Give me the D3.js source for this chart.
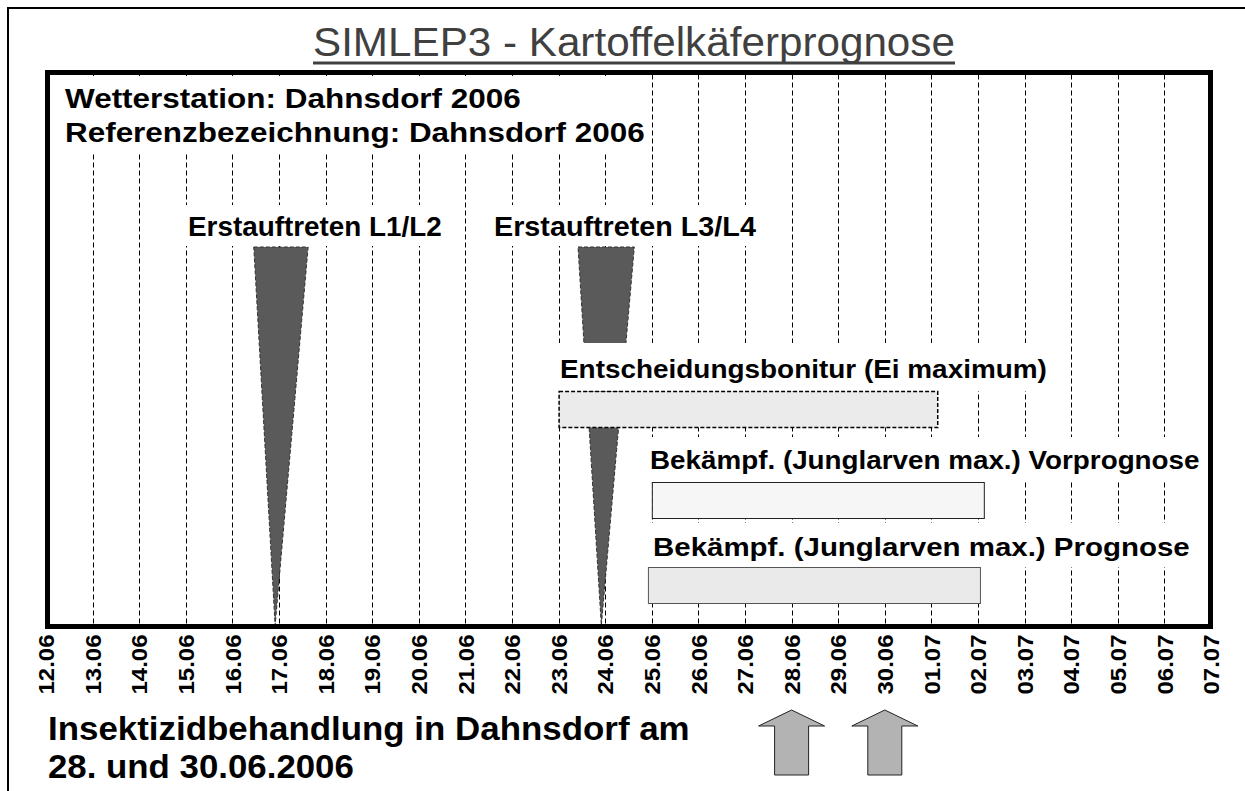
<!DOCTYPE html>
<html>
<head>
<meta charset="utf-8">
<script src="https://cdn.jsdelivr.net/npm/d3@7"></script>
<style>
  body { margin: 0; background: #fff; }
  text { font-family: "Liberation Sans", Arial, sans-serif; }
</style>
</head>
<body>
<script>
var w = 1245;
var h = 791;

// tick labels (days shown on the axis)
var dayLabels = ["12.06","13.06","14.06","15.06","16.06","17.06","18.06","19.06","20.06",
                 "21.06","22.06","23.06","24.06","25.06","26.06","27.06","28.06","29.06",
                 "30.06","01.07","02.07","03.07","04.07","05.07","06.07","07.07"];

// first appearance wedges
var wedgeLabels = ["Erstauftreten L1/L2", "Erstauftreten L3/L4"];
var wedgeStart  = ["2006-06-16T11:00", "2006-06-23T10:00"];
var wedgeEnd    = ["2006-06-17T15:00", "2006-06-24T15:00"];
var wedgePeak   = ["2006-06-16T22:00", "2006-06-23T22:00"];

// period bars
var barLabels = ["Entscheidungsbonitur (Ei maximum)",
                 "Bekämpf. (Junglarven max.) Vorprognose",
                 "Bekämpf. (Junglarven max.) Prognose"];
var barStart  = ["2006-06-23T00:00", "2006-06-25T00:00", "2006-06-24T22:00"];
var barEnd    = ["2006-07-01T03:00", "2006-07-02T03:00", "2006-07-02T01:00"];

// insecticide treatments
var treatDates = ["28.06", "30.06"];

var parseDay = d3.timeParse("%d.%m.%Y");
var parseIso = d3.timeParse("%Y-%m-%dT%H:%M");
var day = function(s) { return parseDay(s + ".2006"); };

var yTop = 72.5, yBottom = 626.5;

//Create scale
var xScale = d3.scaleTime()
    .domain([day(dayLabels[0]), day(dayLabels[dayLabels.length - 1])])
    .range([46, 1211]);

var svg = d3.select("body")
    .append("svg")
    .attr("width", w)
    .attr("height", h);

// stretch a text horizontally to a given width (the original font runs wide)
function fit(sel, len) {
    sel.each(function() {
        var el = d3.select(this);
        var nat = this.getComputedTextLength();
        var x = +el.attr("x") || 0, y = +el.attr("y") || 0;
        el.attr("x", 0).attr("y", 0)
          .attr("transform", "translate(" + x + "," + y + ") scale(" + (len / nat) + ",1)");
    });
}

// outer border (runs off the picture on the right and bottom)
svg.append("rect")
    .attr("x", 8).attr("y", 8)
    .attr("width", 1300).attr("height", 900)
    .attr("fill", "none").attr("stroke", "#000").attr("stroke-width", 2);

// title
svg.append("text")
    .attr("x", 313).attr("y", 56)
    .attr("font-size", 40)
    .attr("fill", "#404040")
    .text("SIMLEP3 - Kartoffelkäferprognose")
    .call(fit, 642);
svg.append("line")
    .attr("x1", 313).attr("x2", 955).attr("y1", 63).attr("y2", 63)
    .attr("stroke", "#404040").attr("stroke-width", 3);

// dashed day grid
var gridDays = dayLabels.slice(1, -1).map(day);
svg.append("g").selectAll("line")
    .data(gridDays)
    .enter()
    .append("line")
    .attr("x1", function(d) { return Math.round(xScale(d)) + 0.5; })
    .attr("x2", function(d) { return Math.round(xScale(d)) + 0.5; })
    .attr("y1", yTop + 2)
    .attr("y2", yBottom - 2)
    .attr("stroke", "#000")
    .attr("stroke-width", 1)
    .attr("stroke-dasharray", "5,3");

// wedges
var wedgeTop = 247;
svg.append("g").selectAll("path")
    .data(wedgeLabels.map(function(l, i) { return i; }))
    .enter()
    .append("path")
    .attr("d", function(i) {
        return "M" + xScale(parseIso(wedgeStart[i])) + "," + wedgeTop +
               "L" + xScale(parseIso(wedgeEnd[i])) + "," + wedgeTop +
               "L" + xScale(parseIso(wedgePeak[i])) + "," + (yBottom - 1) + "Z";
    })
    .attr("fill", "#5a5a5a")
    .attr("stroke", "#333")
    .attr("stroke-width", 1)
    .attr("stroke-dasharray", "4,2");

// white backgrounds behind the texts (they break the grid)
var blanks = [
    [55, 76, 595, 78],
    [183, 205, 262, 41],
    [488, 205, 274, 41],
    [555, 343, 497, 48],
    [645, 437, 560, 45],
    [645, 523, 550, 44]
];
svg.append("g").selectAll("rect")
    .data(blanks)
    .enter()
    .append("rect")
    .attr("x", function(d) { return d[0]; })
    .attr("y", function(d) { return d[1]; })
    .attr("width", function(d) { return d[2]; })
    .attr("height", function(d) { return d[3]; })
    .attr("fill", "#fff");

// bars
var barY = [391, 482, 567];
var barFill = ["#ebebeb", "#f6f6f6", "#eaeaea"];
var barStroke = ["#000", "#222", "#555"];
var barDash = ["4,2", null, null];
svg.append("g").selectAll("rect")
    .data(barLabels.map(function(l, i) { return i; }))
    .enter()
    .append("rect")
    .attr("x", function(i) { return xScale(parseIso(barStart[i])) + 0.5; })
    .attr("y", function(i) { return barY[i] + 0.5; })
    .attr("width", function(i) { return xScale(parseIso(barEnd[i])) - xScale(parseIso(barStart[i])); })
    .attr("height", 36)
    .attr("fill", function(i) { return barFill[i]; })
    .attr("stroke", function(i) { return barStroke[i]; })
    .attr("stroke-width", function(i) { return i === 0 ? 1.5 : 1; })
    .attr("stroke-dasharray", function(i) { return barDash[i]; });

// texts inside the frame
var labels = [
    {t: "Wetterstation: Dahnsdorf 2006", x: 65, y: 108, s: 28, len: 456},
    {t: "Referenzbezeichnung: Dahnsdorf 2006", x: 65, y: 142, s: 28, len: 580},
    {t: wedgeLabels[0], x: 188, y: 236, s: 27, len: 254},
    {t: wedgeLabels[1], x: 494, y: 236, s: 27, len: 262},
    {t: barLabels[0], x: 560, y: 378, s: 26, len: 487},
    {t: barLabels[1], x: 650, y: 469, s: 26, len: 550},
    {t: barLabels[2], x: 653, y: 556, s: 26, len: 537}
];
svg.append("g").selectAll("text")
    .data(labels)
    .enter()
    .append("text")
    .attr("x", function(d) { return d.x; })
    .attr("y", function(d) { return d.y; })
    .attr("font-size", function(d) { return d.s; })
    .attr("font-weight", "bold")
    .text(function(d) { return d.t; })
    .each(function(d) { d3.select(this).call(fit, d.len); });

// frame
svg.append("rect")
    .attr("x", 47.5).attr("y", yTop)
    .attr("width", 1163).attr("height", yBottom - yTop)
    .attr("fill", "none").attr("stroke", "#000").attr("stroke-width", 5);

//Define X axis
var xAxis = d3.axisBottom(xScale)
    .tickValues(dayLabels.map(day))
    .tickSize(0)
    .tickFormat(d3.timeFormat("%d.%m"));

var axisG = svg.append("g")
    .attr("transform", "translate(0," + yBottom + ")")
    .call(xAxis);
axisG.select(".domain").remove();
var tickLen = 60;
axisG.selectAll("text")
    .attr("dy", null)
    .attr("y", 0)
    .attr("dominant-baseline", "central")
    .attr("text-anchor", "end")
    .attr("font-size", 22)
    .attr("font-weight", "bold")
    .attr("font-family", "'Liberation Sans', Arial, sans-serif")
    .attr("fill", "#000")
    .each(function() {
        var nat = this.getComputedTextLength();
        d3.select(this).attr("transform", "rotate(-90) scale(" + (tickLen / nat) + ",1)")
          .attr("x", -8 * nat / tickLen);
    });

// treatment arrows
var arrowTop = 710, arrowNeck = 726, arrowBottom = 775;
svg.append("g").selectAll("path")
    .data(treatDates.map(day))
    .enter()
    .append("path")
    .attr("d", function(d) {
        var cx = xScale(d);
        return "M" + cx + "," + arrowTop +
               "L" + (cx + 33) + "," + arrowNeck +
               "L" + (cx + 17) + "," + arrowNeck +
               "L" + (cx + 17) + "," + arrowBottom +
               "L" + (cx - 17) + "," + arrowBottom +
               "L" + (cx - 17) + "," + arrowNeck +
               "L" + (cx - 33) + "," + arrowNeck + "Z";
    })
    .attr("fill", "#b3b3b3")
    .attr("stroke", "#222")
    .attr("stroke-width", 1);

// note below
svg.append("text")
    .attr("x", 48).attr("y", 740)
    .attr("font-size", 34).attr("font-weight", "bold")
    .text("Insektizidbehandlung in Dahnsdorf am")
    .call(fit, 642);
svg.append("text")
    .attr("x", 48).attr("y", 778)
    .attr("font-size", 34).attr("font-weight", "bold")
    .text("28. und 30.06.2006")
    .call(fit, 306);
</script>
</body>
</html>
